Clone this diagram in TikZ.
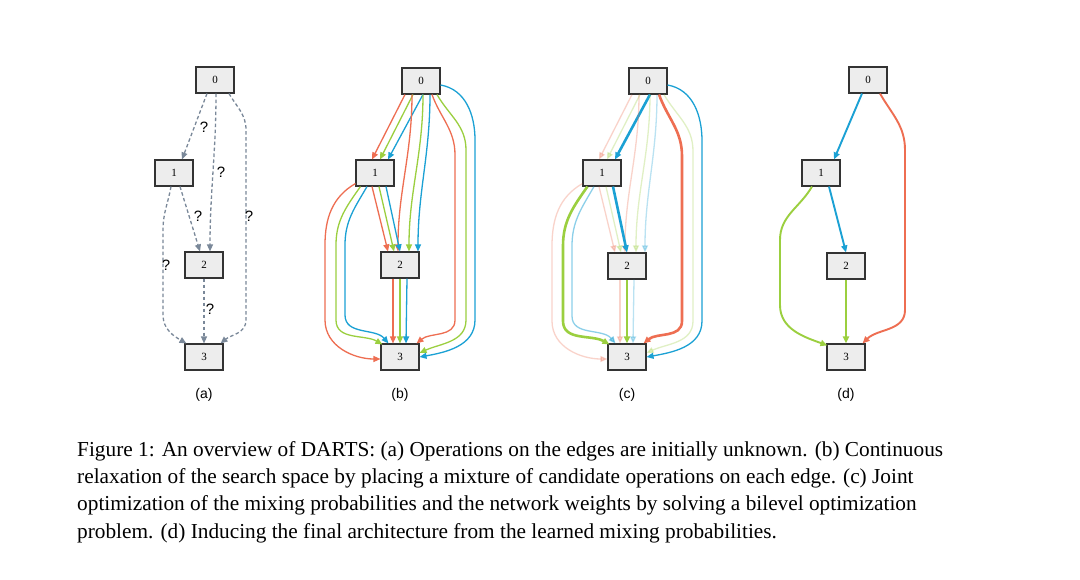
\documentclass[tikz,border=0pt]{standalone}
\usepackage{fontspec}
\setmainfont{Liberation Serif}
\newfontfamily\sansf{Liberation Sans}
\usetikzlibrary{arrows.meta,calc}
\definecolor{cr}{HTML}{EE6E52}
\definecolor{cg}{HTML}{9BCF3F}
\definecolor{cb}{HTML}{1BA1D4}
\definecolor{cq}{HTML}{7A8899}
\tikzset{
  box/.style={draw=black!80,fill=black!7,line width=1.1pt,minimum width=38pt,minimum height=26pt,inner sep=0pt,font=\fontsize{11}{11}\selectfont},
  e/.style={line width=1.3pt,-{Triangle[length=7pt,width=6pt]}},
  q/.style={e,cq,dashed,dash pattern=on 3.5pt off 2.5pt},
  ql/.style={font=\sansf\fontsize{15}{15}\selectfont,inner sep=1pt},
  faint/.style={opacity=0.3},
  thk/.style={line width=2.6pt},
  lab/.style={font=\sansf\fontsize{14}{14}\selectfont},
}
\tikzset{cr01/.style={faint},cg01/.style={faint},cb01/.style={thk},
 cr02/.style={faint},cg02/.style={faint},cb02/.style={faint},
 cr03/.style={thk},cg03/.style={faint},cb03/.style={},
 cr12/.style={faint},cg12/.style={faint},cb12/.style={thk},
 cr13/.style={faint},cg13/.style={thk},cb13/.style={opacity=0.5},
 cr23/.style={faint},cg23/.style={thk},cb23/.style={faint}}
\tikzset{br01/.style={},bg01/.style={},bb01/.style={},
 br02/.style={},bg02/.style={},bb02/.style={},
 br03/.style={},bg03/.style={},bb03/.style={},
 br12/.style={},bg12/.style={},bb12/.style={},
 br13/.style={},bg13/.style={},bb13/.style={},
 br23/.style={},bg23/.style={},bb23/.style={}}
\newcommand\alledges[1]{%
 % 0->1
 \draw[e,cr,#1r01] ($(#10.south)+(-16,0)$) -- ($(#11.north)+(-3,0)$);
 \draw[e,cg,#1g01] ($(#10.south)+(-8,0)$) -- ($(#11.north)+(5,0)$);
 \draw[e,cb,#1b01] ($(#10.south)+(2,0)$) -- ($(#11.north)+(13,0)$);
 % 0->2
 \draw[e,cr,#1r02] ($(#10.south)+(-9,0)$) .. controls +(0,60) and +(0,-60) .. ($(#12.north)+(-2,0)$);
 \draw[e,cg,#1g02] ($(#10.south)+(2,0)$) .. controls +(0,60) and +(0,-60) .. ($(#12.north)+(9,0)$);
 \draw[e,cb,#1b02] ($(#10.south)+(9,0)$) .. controls +(0,60) and +(0,-60) .. ($(#12.north)+(18,0)$);
 % 1->2
 \draw[e,cr,#1r12] ($(#11.south)+(-3,0)$) -- ($(#12.north)+(-12,0)$);
 \draw[e,cg,#1g12] ($(#11.south)+(4,0)$) -- ($(#12.north)+(-6,0)$);
 \draw[e,cb,#1b12] ($(#11.south)+(11,0)$) -- ($(#12.north)+(0,0)$);
 % 2->3
 \draw[e,cr,#1r23] ($(#12.south)+(-7,0)$) -- ($(#13.north)+(-7,0)$);
 \draw[e,cg,#1g23] ($(#12.south)+(0,0)$) -- ($(#13.north)+(0,0)$);
 \draw[e,cb,#1b23] ($(#12.south)+(7,0)$) -- ($(#13.north)+(6,0)$);
 % 0->3 right
 \draw[e,cr,#1r03] ($(#10.south)+(11,0)$) to[out=-70,in=90] ($(#12)+(55,-110)$) -- ($(#12)+(55,55)$) to[out=-90,in=40] ($(#13.north east)+(-3,0)$);
 \draw[e,cg,#1g03] ($(#10.south)+(16,0)$) to[out=-60,in=90] ($(#12)+(66,-115)$) -- ($(#12)+(66,55)$) to[out=-90,in=25] ($(#13.east)+(0,-4)$);
 \draw[e,cb,#1b03] ($(#10.east)+(0,4)$) to[out=-10,in=90] ($(#12)+(75,-125)$) -- ($(#12)+(75,55)$) to[out=-90,in=10] ($(#13.east)+(0,0)$);
 % 1->3 left
 \draw[e,cr,#1r13] ($(#11.south west)+(0,-3)$) to[out=-150,in=90] ($(#12)+(-75,-20)$) -- ($(#12)+(-75,55)$) to[out=-90,in=180] ($(#13.west)+(0,2)$);
 \draw[e,cg,#1g13] ($(#11.south west)+(5,0)$) to[out=-125,in=90] ($(#12)+(-64,-20)$) -- ($(#12)+(-64,55)$) to[out=-90,in=150] ($(#13.north west)+(2,1)$);
 \draw[e,cb,#1b13] ($(#11.south)+(-8,0)$) to[out=-120,in=90] ($(#12)+(-55,-20)$) -- ($(#12)+(-55,50)$) to[out=-90,in=130] ($(#13.north west)+(8,0)$);
}
\begin{document}
\begin{tikzpicture}[x=1pt,y=-1pt]
\useasboundingbox[fill=white] (0,0) rectangle (1080,580);
% (a)
\node[box] (a0) at (215,80) {0};
\node[box] (a1) at (174,173) {1};
\node[box] (a2) at (204,265) {2};
\node[box] (a3) at (204,357) {3};
\draw[q] ($(a0.south)+(-8,0)$) -- ($(a1.north)+(8,0)$);
\draw[q] ($(a0.south)+(1,0)$) .. controls +(0,60) and +(0,-60) .. ($(a2.north)+(6,0)$);
\draw[q] ($(a0.south)+(14,0)$) to[out=-60,in=90] (246,130) -- (246,320) to[out=-90,in=40] ($(a3.north east)+(-3,0)$);
\draw[q] ($(a1.south)+(-3,0)$) to[out=-100,in=90] (163,230) -- (163,315) to[out=-90,in=150] ($(a3.north west)+(2,0)$);
\draw[q] ($(a1.south)+(6,0)$) -- ($(a2.north)+(-4,0)$);
\draw[q] (a2.south) -- (a3.north);
\node[ql] (qa) at (204,127) {?};
\node[ql] (qb) at (221,172) {?};
\node[ql] (qc) at (249,216) {?};
\node[ql] (qd) at (198,216) {?};
\node[ql] (qe) at (166,265) {?};
\node[ql] (qf) at (210,309) {?};
% (b)
\node[box] (b0) at (421,81) {0};
\node[box] (b1) at (375,173) {1};
\node[box] (b2) at (400,265) {2};
\node[box] (b3) at (400,357) {3};
\alledges{b}
% (c)
\node[box] (c0) at (648,81) {0};
\node[box] (c1) at (602,173) {1};
\node[box] (c2) at (627,266) {2};
\node[box] (c3) at (627,357) {3};
\alledges{c}
% (d)
\node[box] (d0) at (868,80) {0};
\node[box] (d1) at (821,173) {1};
\node[box] (d2) at (846,266) {2};
\node[box] (d3) at (846,357) {3};
\draw[e,cb,line width=1.9pt] ($(d0.south)+(-6,0)$) -- ($(d1.north)+(13,0)$);
\draw[e,cb,line width=1.9pt] ($(d1.south)+(8,0)$) -- ($(d2.north)+(0,0)$);
\draw[e,cg,line width=1.9pt] (d2.south) -- (d3.north);
\draw[e,cr,line width=1.9pt] ($(d0.south)+(12,0)$) to[out=-60,in=90] (905,150) -- (905,310) to[out=-90,in=45] ($(d3.north east)+(-3,0)$);
\draw[e,cg,line width=1.9pt] ($(d1.south)+(-9,0)$) to[out=-120,in=90] (780,240) -- (780,305) to[out=-90,in=160] ($(d3.north west)+(1,2)$);
% labels
\node[lab] (la) at (204,395) {(a)};
\node[lab] (lb) at (400,395) {(b)};
\node[lab] (lc) at (627,395) {(c)};
\node[lab] (ld) at (846,395) {(d)};
\node[anchor=north west,inner sep=0pt,align=left,font=\fontsize{21.3}{27.3}\selectfont] (cap) at (77,441) {Figure 1: An overview of DARTS: (a) Operations on the edges are initially unknown. (b) Continuous\\ relaxation of the search space by placing a mixture of candidate operations on each edge. (c) Joint\\ optimization of the mixing probabilities and the network weights by solving a bilevel optimization\\ problem. (d) Inducing the final architecture from the learned mixing probabilities.};
\end{tikzpicture}
\end{document}
